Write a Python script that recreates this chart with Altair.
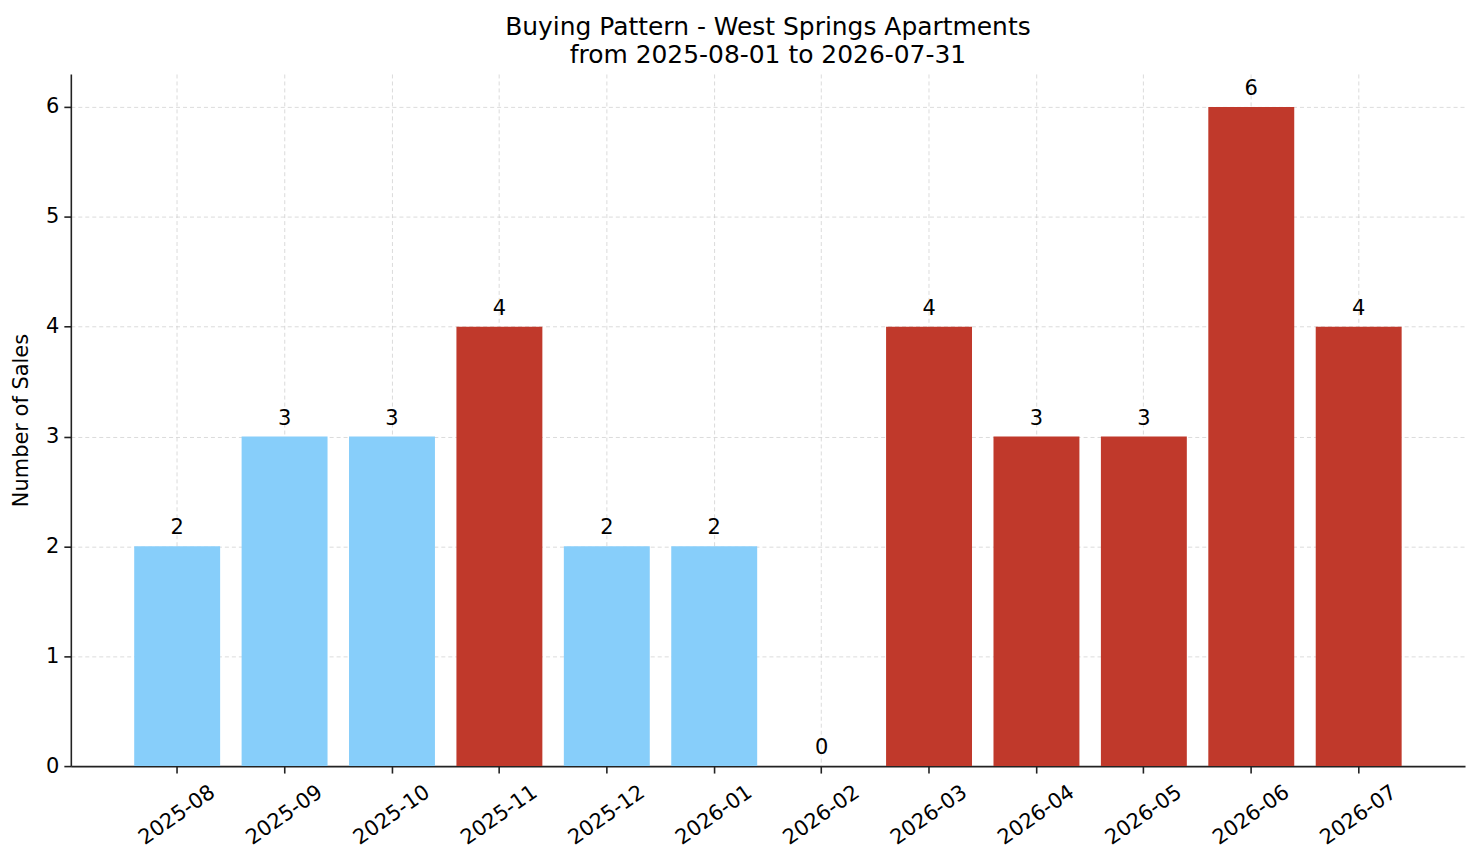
import pandas as pd
import altair as alt

months = ['2025-08', '2025-09', '2025-10', '2025-11', '2025-12', '2026-01',
          '2026-02', '2026-03', '2026-04', '2026-05', '2026-06', '2026-07']
sales = [2, 3, 3, 4, 2, 2, 0, 4, 3, 3, 6, 4]
# which months were drawn in the highlight colour
group = ['normal', 'normal', 'normal', 'high', 'normal', 'normal',
         'normal', 'high', 'high', 'high', 'high', 'high']

df = pd.DataFrame({'month': months, 'sales': sales, 'group': group})

x = alt.X('month:N', sort=months, title=None,
          scale=alt.Scale(paddingInner=0.2, paddingOuter=0.59),
          axis=alt.Axis(labelAngle=-35, labelAlign='center', labelBaseline='middle',
                        labelPadding=42, labelOverlap=False, labelBound=False))
y = alt.Y('sales:Q', title='Number of Sales',
          scale=alt.Scale(domain=[0, 6.3], nice=False),
          axis=alt.Axis(values=[0, 1, 2, 3, 4, 5, 6], format='d',
                        titleX=-49, titleY=347, titleAngle=-90,
                        titleAlign='center', titleBaseline='middle'))

bars = alt.Chart(df).mark_bar().encode(
    x=x,
    y=y,
    color=alt.Color('group:N', legend=None,
                    scale=alt.Scale(domain=['normal', 'high'],
                                    range=['#87CEFA', '#C0392B'])),
)

text = alt.Chart(df).mark_text(dy=-12, baseline='alphabetic', fontSize=21,
                               font='DejaVu Sans', color='black').encode(
    x=alt.X('month:N', sort=months),
    y=alt.Y('sales:Q'),
    text=alt.Text('sales:Q', format='d'),
)

chart = (bars + text).properties(
    width=1398, height=694,
    title=alt.Title(['Buying Pattern - West Springs Apartments',
                     'from 2025-08-01 to 2026-07-31'],
                    fontSize=25, font='DejaVu Sans', fontWeight='normal',
                    lineHeight=28, offset=6, color='black', anchor='middle'),
    autosize=alt.AutoSizeParams(type='none'),
    padding={'left': 63, 'top': 65, 'right': 8, 'bottom': 88},
).configure_view(
    stroke=None
).configure_axis(
    labelFont='DejaVu Sans', titleFont='DejaVu Sans',
    labelFontSize=21, titleFontSize=21, titleFontWeight='normal',
    labelColor='black', titleColor='black',
    domainColor='#222222', domainWidth=1.6,
    tickColor='#222222', tickWidth=1.6, tickSize=7,
    grid=True, gridColor='#cccccc', gridOpacity=0.8,
    gridDash=[4, 3], gridWidth=0.9, zindex=1,
).configure_axisY(
    labelPadding=5
)

chart.save("out.html", embed_options={"renderer": "svg", "actions": False})
